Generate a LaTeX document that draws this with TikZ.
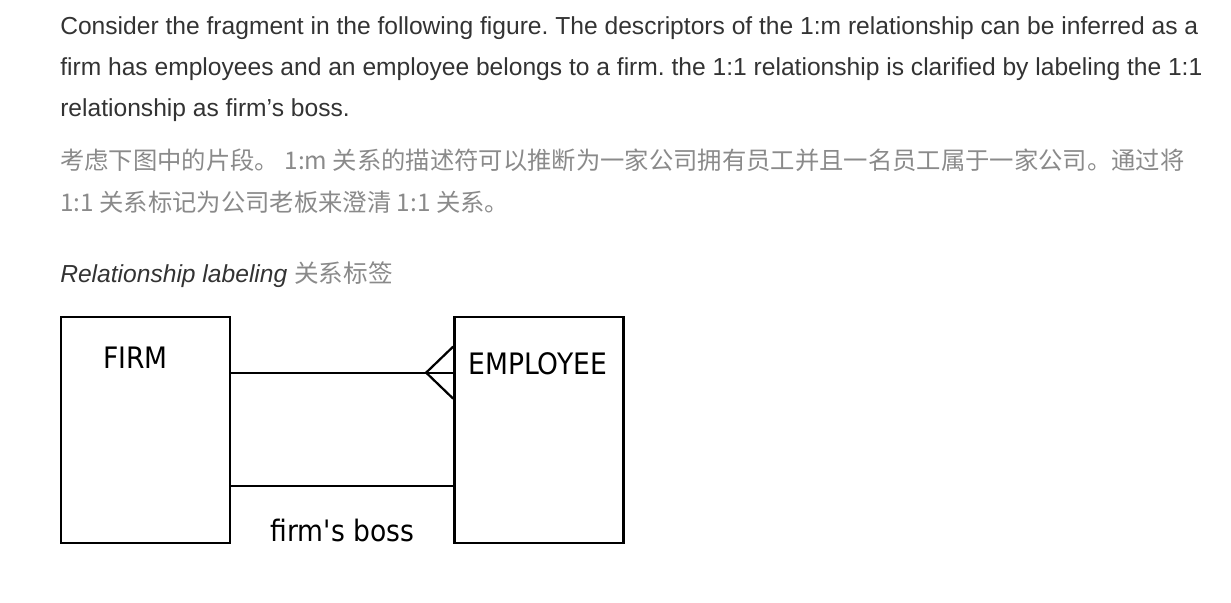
\documentclass[tikz,border=0pt]{standalone}
\usepackage{fontspec}
\setmainfont{Liberation Sans}
\newfontfamily\cjk{Noto Sans CJK SC}
\newfontfamily\erfont[FakeStretch=0.9]{DejaVu Sans}
\usetikzlibrary{positioning, calc}
\definecolor{bodytext}{HTML}{333333}
\definecolor{cntext}{HTML}{8A8A8A}
\frenchspacing

\begin{document}
\begin{tikzpicture}[x=0.025cm, y=-0.025cm,
  line/.style={anchor=base west, inner sep=0pt, text=bodytext, font=\fontsize{17.5}{20}\selectfont},
  cnline/.style={anchor=base west, inner sep=0pt, text=cntext, font=\cjk\fontsize{17.3}{20}\selectfont},
  entity/.style={draw, line width=1.9pt, inner sep=0pt, minimum width=4.225cm, minimum height=5.65cm},
  erlabel/.style={inner sep=0pt, font=\erfont\fontsize{21}{24}\selectfont},
  rel/.style={line width=1.6pt}]
  \useasboundingbox (0,0) rectangle (1231,603);

  % English paragraph
  \node[line] (en1) at (60,35) {Consider the fragment in the following figure. The descriptors of the 1:m relationship can be inferred as a};
  \node[line] (en2) at (60,76) {firm has employees and an employee belongs to a firm. the 1:1 relationship is clarified by labeling the 1:1};
  \node[line] (en3) at (60,117) {relationship as firm’s boss.};

  % Chinese paragraph
  \node[cnline] (cn1) at (60,170) {考虑下图中的片段。 1:m 关系的描述符可以推断为一家公司拥有员工并且一名员工属于一家公司。通过将};
  \node[cnline] (cn2) at (60,212) {1:1 关系标记为公司老板来澄清 1:1 关系。};

  % Caption
  \node[line] (cap) at (60,283) {\itshape Relationship labeling \textcolor{cntext}{\cjk\upshape 关系标签}};

  % Entity boxes
  \node[entity] (firm) at (145.5,430) {};
  \node[entity] (emp) at (539,430) {};
  \node[erlabel, anchor=base west] (firmlbl) at (103,368) {FIRM};
  \node[erlabel, anchor=base west] (emplbl) at (468,375) {EMPLOYEE};

  % 1:m relationship with crow's foot
  \coordinate (apex) at ($(emp.north west)+(-27,57)$);
  \draw[rel] (firm.east |- apex) -- (emp.west |- apex);
  \draw[rel] ($(emp.north west)+(0,31)$) -- (apex) -- ($(emp.north west)+(0,83)$);

  % 1:1 relationship
  \coordinate (boss) at ($(firm.north east)+(0,170)$);
  \draw[rel] (boss) -- (boss -| emp.west);
  \node[erlabel, anchor=base] (bosslbl) at (342.5,541) {firm's boss};
\end{tikzpicture}
\end{document}
